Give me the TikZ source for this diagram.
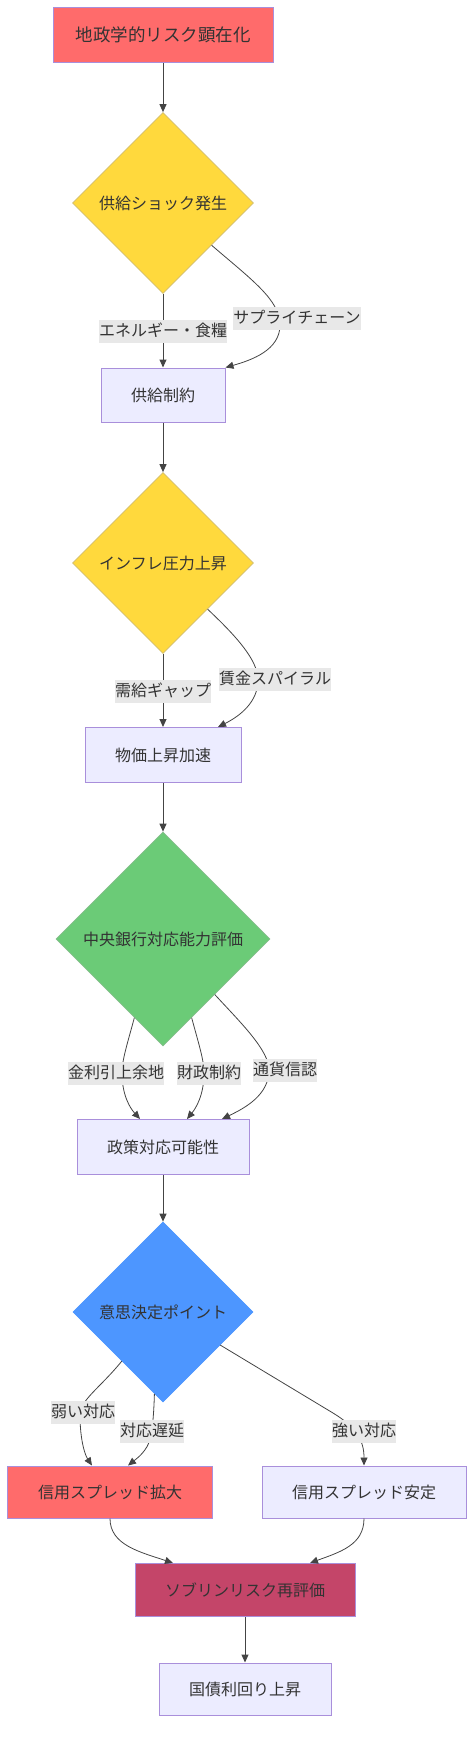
\documentclass[tikz,border=0pt]{standalone}
\usepackage{fontspec}
\setmainfont{Noto Sans CJK JP}
\usetikzlibrary{shapes.geometric,arrows.meta}
\definecolor{txt}{HTML}{333333}
\definecolor{boxline}{HTML}{A98FDB}
\definecolor{lav}{HTML}{ECECFF}
\definecolor{redf}{HTML}{FF6B6B}
\definecolor{crim}{HTML}{C44569}
\definecolor{yel}{HTML}{FFD93D}
\definecolor{grn}{HTML}{6BCB77}
\definecolor{blu}{HTML}{4D96FF}
\definecolor{lblbg}{HTML}{E8E8E8}
\definecolor{edgec}{HTML}{444444}
\begin{document}
\begin{tikzpicture}[x=1pt,y=-1pt,
  font=\fontsize{16}{19}\selectfont,
  box/.style={rectangle, draw=boxline, line width=1pt, text=txt, inner sep=0pt, minimum height=54pt},
  lavbox/.style={box, fill=lav},
  dia/.style={diamond, aspect=1, inner sep=0pt, text=txt, line width=0.7pt},
  lbl/.style={fill=lblbg, text=txt, inner xsep=0pt, inner ysep=3.5pt, text height=13pt, text depth=3pt},
  conn/.style={draw=edgec, line width=1pt, -{Triangle[length=8pt,width=7pt]}},
  curv/.style={draw=edgec, line width=0.8pt, -{Triangle[length=8pt,width=7pt]}}]
\useasboundingbox (0,0) rectangle (474,1750);

% nodes
\node[box, fill=redf, minimum width=220pt, minimum height=55pt, font=\fontsize{17.5}{20}\selectfont] (n1) at (163,35) {地政学的リスク顕在化};
\node[dia, fill=yel, draw=yel!75!black!70, minimum size=181pt] (d1) at (163,203) {供給ショック発生};
\node[lavbox, minimum width=124pt] (b2) at (163,395) {供給制約};
\node[dia, fill=yel, draw=yel!75!black!70, minimum size=181pt] (d2) at (163,563) {インフレ圧力上昇};
\node[lavbox, minimum width=156pt, minimum height=55pt] (b3) at (163,755) {物価上昇加速};
\node[dia, fill=grn, draw=grn!80!black!70, minimum size=214pt] (d3) at (163,939) {中央銀行対応能力評価};
\node[lavbox, minimum width=172pt, minimum height=55pt] (b4) at (163,1147) {政策対応可能性};
\node[dia, fill=blu, draw=blu, minimum size=180pt] (d4) at (163,1312) {意思決定ポイント};
\node[box, fill=redf, minimum width=205pt, minimum height=52pt] (b5) at (110,1492) {信用スプレッド拡大};
\node[lavbox, minimum width=204pt, minimum height=52pt] (b6) at (364,1492) {信用スプレッド安定};
\node[box, fill=crim, minimum width=220pt, minimum height=53pt] (b7) at (245,1590) {ソブリンリスク再評価};
\node[lavbox, minimum width=172pt, minimum height=52pt] (b8) at (245,1689) {国債利回り上昇};

% connectors
\draw[conn] (n1.south) -- (d1.north);
\draw[conn] (d1.south) -- (b2.north);
\draw[curv] (d1.-41) .. controls (252,280) and (280,300) .. (280,325) .. controls (280,350) and (252,360) .. (b2.north east);

\draw[conn] (b2.south) -- (d2.north);
\draw[conn] (d2.south) -- (b3.north);
\draw[curv] (d2.-46) .. controls (236,636) and (258,660) .. (258,680) .. controls (258,702) and (240,716) .. ([xshift=55pt]b3.north);

\draw[conn] (b3.south) -- (d3.north);
\draw[curv] (d3.-110) .. controls (127,1045) and (122,1060) .. (122,1073) .. controls (122,1095) and (130,1108) .. ([xshift=-23pt]b4.north);
\draw[curv] (d3.-70) .. controls (199,1045) and (204,1060) .. (204,1073) .. controls (204,1095) and (196,1108) .. ([xshift=24pt]b4.north);
\draw[curv] (d3.-47) .. controls (240,1022) and (269,1050) .. (269,1070) .. controls (269,1095) and (245,1108) .. ([xshift=59pt]b4.north);

\draw[conn] (b4.south) -- (d4.north);
\draw[curv] (d4.-130) .. controls (100,1388) and (80,1400) .. (80,1415) .. controls (80,1440) and (85,1455) .. ([xshift=-18pt]b5.north);
\draw[curv] (d4.-96) .. controls (154,1410) and (153,1420) .. (152,1431) .. controls (150,1448) and (140,1456) .. ([xshift=18pt]b5.north);
\draw[curv] (d4.-30) -- (333,1413) .. controls (356,1427) and (364,1440) .. (b6.north);

\draw[curv] (b5.south) .. controls (110,1545) and (140,1552) .. ([xshift=-72pt]b7.north);
\draw[curv] (b6.south) .. controls (364,1545) and (340,1552) .. ([xshift=65pt]b7.north);
\draw[conn] (b7.south) -- (b8.north);

% labels
\node[lbl] (l1) at (163,331) {エネルギー・食糧};
\node[lbl] (l2) at (297,318) {サプライチェーン};
\node[lbl] (l3) at (163,691) {需給ギャップ};
\node[lbl] (l4) at (275,679) {賃金スパイラル};
\node[lbl] (l5) at (116,1073) {金利引上余地};
\node[lbl] (l6) at (209,1073) {財政制約};
\node[lbl] (l7) at (285,1070) {通貨信認};
\node[lbl] (l8) at (83,1412) {弱い対応};
\node[lbl] (l9) at (152,1431) {対応遅延};
\node[lbl] (l10) at (364,1431) {強い対応};
\end{tikzpicture}
\end{document}
